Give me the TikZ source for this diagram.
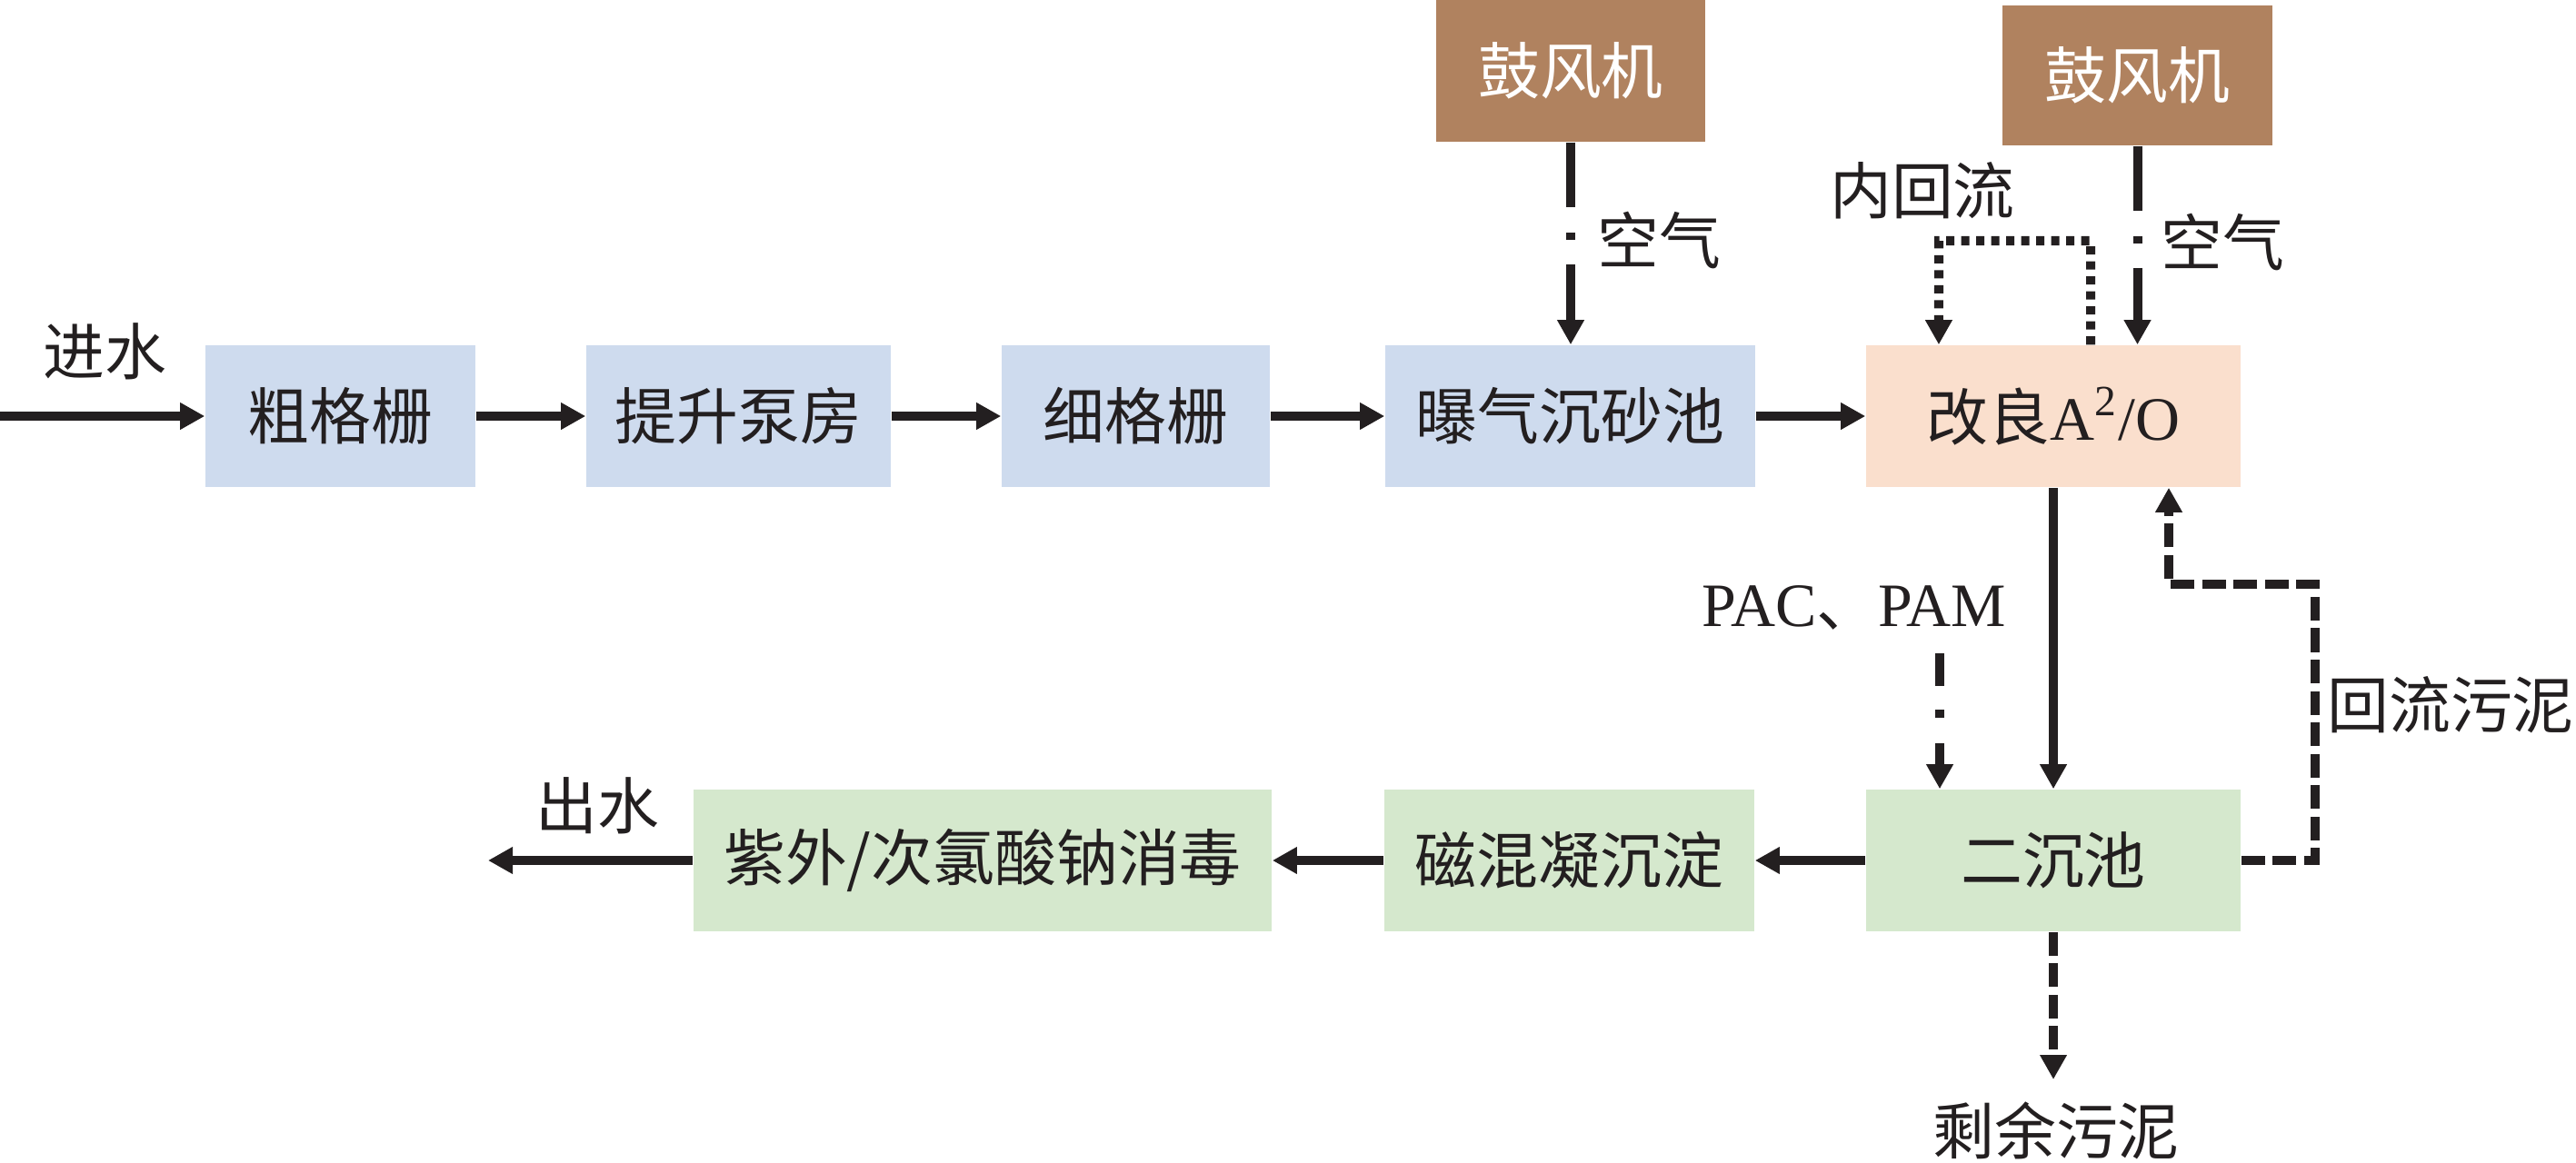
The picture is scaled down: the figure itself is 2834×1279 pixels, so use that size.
\documentclass[tikz,border=0pt]{standalone}
\usepackage{fontspec}
\setmainfont{Noto Sans CJK SC}
\newfontfamily\lat{Liberation Serif}
\usetikzlibrary{arrows.meta}
\definecolor{boxblue}{HTML}{CEDBEE}
\definecolor{boxpeach}{HTML}{FADFCD}
\definecolor{boxgreen}{HTML}{D5E8CD}
\definecolor{boxbrown}{HTML}{B0825F}
\definecolor{ink}{HTML}{231F20}
\begin{document}
\begin{tikzpicture}[x=0.01cm,y=-0.01cm,
  font=\fontsize{19.3pt}{23pt}\selectfont, text=ink,
  procbox/.style={inner sep=0pt, minimum height=1.56cm},
  bluebox/.style={procbox, fill=boxblue},
  greenbox/.style={procbox, fill=boxgreen},
  peachbox/.style={procbox, fill=boxpeach},
  blowerbox/.style={procbox, fill=boxbrown, text=white},
  lbl/.style={inner sep=0pt},
  flow/.style={draw=ink, line width=1mm, -{Triangle[length=2.7mm,width=2.8mm]}},
  airflow/.style={flow, dash pattern=on 7.1mm off 2.8mm on 0.8mm off 2.7mm on 50mm},
  dosing/.style={flow, dash pattern=on 3.6mm off 2.6mm on 0.9mm off 2.8mm on 50mm},
  sludgeflow/.style={flow, dash pattern=on 2.6mm off 0.85mm},
  refluxflow/.style={flow, dash pattern=on 0.9mm off 0.75mm}
]
\useasboundingbox (0,0) rectangle (2834,1279);

% top row
\node[bluebox, minimum width=2.97cm] (b1) at (374.5,458) {粗格栅};
\node[bluebox, minimum width=3.35cm] (b2) at (812.5,458) {提升泵房};
\node[bluebox, minimum width=2.95cm] (b3) at (1249.5,458) {细格栅};
\node[bluebox, minimum width=4.07cm] (b4) at (1727.5,458) {曝气沉砂池};
\node[peachbox, minimum width=4.12cm] (b5) at (2259,458) {改良{\lat A\textsuperscript{2}/O}};

% blowers
\node[blowerbox, minimum width=2.96cm] (bl1) at (1728,78) {鼓风机};
\node[blowerbox, minimum width=2.97cm, minimum height=1.54cm] (bl2) at (2351.5,83) {鼓风机};

% bottom row
\node[greenbox, minimum width=4.12cm] (c1) at (2259,947) {二沉池};
\node[greenbox, minimum width=4.07cm] (c2) at (1726.5,947) {磁混凝沉淀};
\node[greenbox, minimum width=6.36cm] (c3) at (1081,947) {紫外/次氯酸钠消毒};

% labels
\node[lbl] (lin) at (115,387) {进水};
\node[lbl] (lout) at (657,887) {出水};
\node[lbl] (lair1) at (1825,264) {空气};
\node[lbl] (lair2) at (2445,266) {空气};
\node[lbl] (lir) at (2115,210) {内回流};
\node[lbl] (lpac) at (2040,669) {{\lat PAC}、{\lat PAM}};
\node[lbl] (lrs) at (2696,776) {回流污泥};
\node[lbl] (lex) at (2262,1244) {剩余污泥};

% coordinates
\coordinate (inlet) at (0,458);
\coordinate (outlet) at (537,947);
\coordinate (pacs) at (2134,719);
\coordinate (irc) at (2133,265);
\coordinate (rsR) at (2547,643);
\coordinate (rsL) at (2386,643);
\coordinate (extip) at (2259,1188);

% main flow
\draw[flow] (inlet) -- (b1.west);
\draw[flow] (b1.east) -- (b2.west);
\draw[flow] (b2.east) -- (b3.west);
\draw[flow] (b3.east) -- (b4.west);
\draw[flow] (b4.east) -- (b5.west);
\draw[flow] (b5.south) -- (c1.north);
\draw[flow] (c1.west) -- (c2.east);
\draw[flow] (c2.west) -- (c3.east);
\draw[flow] (c3.west) -- (outlet);

% air
\draw[airflow] (bl1.south) -- (bl1.south |- b4.north);
\draw[airflow] (bl2.south) -- (bl2.south |- b5.north);

% internal reflux
\draw[refluxflow] ([xshift=4.1mm]b5.north) |- (irc) -- ([xshift=-12.6mm]b5.north);

% dosing
\draw[dosing] (pacs) -- (pacs |- c1.north);

% return sludge
\draw[sludgeflow] (c1.east) -| (rsR) -- (rsL) -- (rsL |- b5.south);

% excess sludge
\draw[sludgeflow] (c1.south) -- (extip);
\end{tikzpicture}
\end{document}
